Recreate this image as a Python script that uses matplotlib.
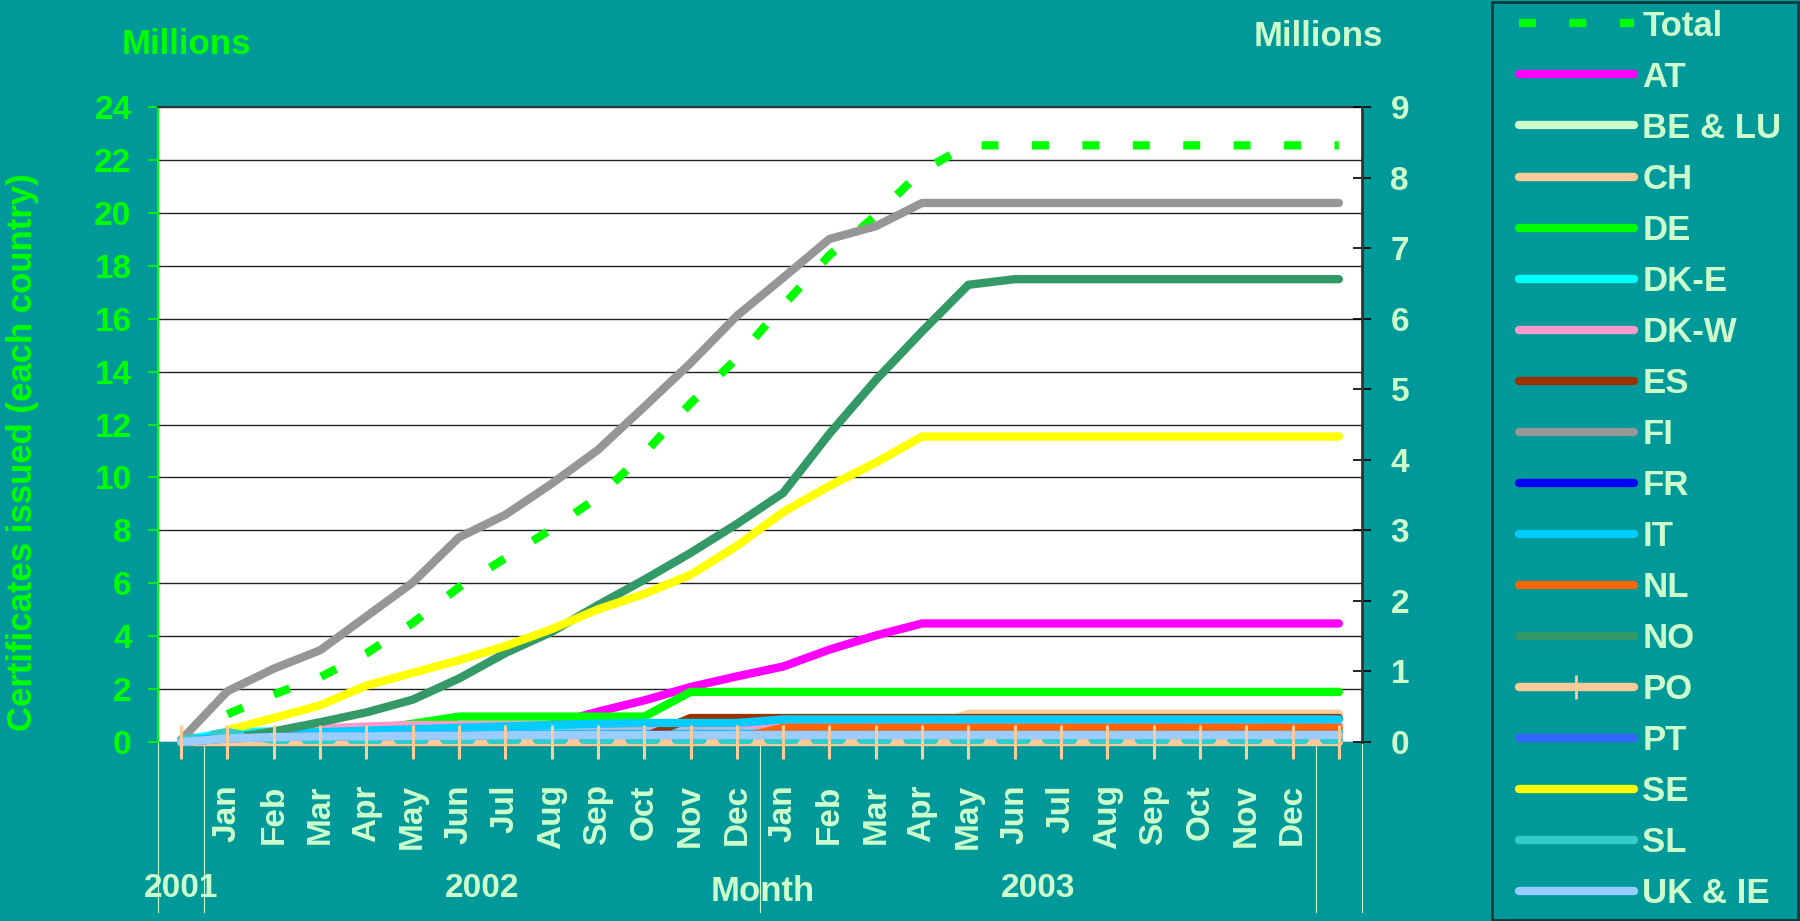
import numpy as np
import matplotlib.pyplot as plt
from matplotlib.lines import Line2D
from matplotlib.patches import Rectangle

plt.rcParams['font.family'] = ['Liberation Sans', 'DejaVu Sans']
plt.rcParams['font.weight'] = 'bold'
plt.rcParams['lines.scale_dashes'] = False

# categories of the x axis (first and last have no month label)
months = ['', 'Jan', 'Feb', 'Mar', 'Apr', 'May', 'Jun', 'Jul', 'Aug', 'Sep', 'Oct', 'Nov', 'Dec',
          'Jan', 'Feb', 'Mar', 'Apr', 'May', 'Jun', 'Jul', 'Aug', 'Sep', 'Oct', 'Nov', 'Dec', '']
year_groups = ['2001', '2002', '2003', '']
year_sizes = [1, 12, 12, 1]

nan = np.nan
# Total, left axis (millions)
total = [nan, 1.05, 1.8, 2.45, 3.35, 4.5, 5.85, 6.95, 8.05, 9.25, 10.9, 12.8, 14.5,
         16.5, 18.4, 19.9, 21.6, 22.55, 22.55, 22.55, 22.55, 22.55, 22.55, 22.55, 22.55, 22.55]

# countries, right axis (millions)
at_ = [0.0, 0.02, 0.04, 0.06, 0.08, 0.10, 0.12, 0.16, 0.25, 0.43, 0.59, 0.78, 0.93,
       1.07, 1.31, 1.51, 1.68, 1.68, 1.68, 1.68, 1.68, 1.68, 1.68, 1.68, 1.68, 1.68]
be_lu = [0.0, 0.04, 0.08, 0.10, 0.11, 0.12, 0.12, 0.12, 0.12, 0.12, 0.12, 0.12, 0.12,
         0.12, 0.12, 0.12, 0.12, 0.12, 0.12, 0.12, 0.12, 0.12, 0.12, 0.12, 0.12, 0.12]
ch = [0.0, 0.05, 0.12, 0.15, 0.16, 0.16, 0.16, 0.16, 0.16, 0.16, 0.16, 0.16, 0.16,
      0.16, 0.16, 0.16, 0.17, 0.40, 0.40, 0.40, 0.40, 0.40, 0.40, 0.40, 0.40, 0.40]
de = [0.0, 0.03, 0.06, 0.10, 0.16, 0.26, 0.36, 0.36, 0.36, 0.36, 0.36, 0.71, 0.71,
      0.71, 0.71, 0.71, 0.71, 0.71, 0.71, 0.71, 0.71, 0.71, 0.71, 0.71, 0.71, 0.71]
dk_e = [0.02, 0.14, 0.15, 0.15, 0.15, 0.15, 0.15, 0.15, 0.15, 0.15, 0.15, 0.15, 0.15,
        0.15, 0.15, 0.15, 0.15, 0.15, 0.15, 0.15, 0.15, 0.15, 0.15, 0.15, 0.15, 0.15]
dk_w = [0.0, 0.04, 0.15, 0.19, 0.22, 0.24, 0.24, 0.24, 0.24, 0.24, 0.24, 0.24, 0.24,
        0.24, 0.24, 0.24, 0.24, 0.24, 0.24, 0.24, 0.24, 0.24, 0.24, 0.24, 0.24, 0.24]
es = [0.0, 0.0, 0.0, 0.0, 0.0, 0.0, 0.0, 0.0, 0.0, 0.0, 0.07, 0.34, 0.34,
      0.34, 0.34, 0.34, 0.34, 0.34, 0.34, 0.34, 0.34, 0.34, 0.34, 0.34, 0.34, 0.34]
fi = [0.03, 0.72, 1.04, 1.30, 1.78, 2.26, 2.90, 3.22, 3.66, 4.14, 4.75, 5.37, 6.04,
      6.58, 7.13, 7.31, 7.64, 7.64, 7.64, 7.64, 7.64, 7.64, 7.64, 7.64, 7.64, 7.64]
fr = [0.0, 0.05, 0.07, 0.08, 0.08, 0.09, 0.09, 0.10, 0.10, 0.10, 0.10, 0.10, 0.10,
      0.10, 0.10, 0.10, 0.10, 0.10, 0.10, 0.10, 0.10, 0.10, 0.10, 0.10, 0.10, 0.10]
it = [0.02, 0.08, 0.12, 0.14, 0.16, 0.18, 0.20, 0.22, 0.24, 0.26, 0.27, 0.27, 0.27,
      0.32, 0.32, 0.32, 0.32, 0.32, 0.32, 0.32, 0.32, 0.32, 0.32, 0.32, 0.32, 0.32]
nl = [0.0, 0.0, 0.0, 0.0, 0.0, 0.0, 0.0, 0.0, 0.0, 0.0, 0.0, 0.0, 0.05,
      0.20, 0.20, 0.20, 0.20, 0.20, 0.20, 0.20, 0.20, 0.20, 0.20, 0.20, 0.20, 0.20]
no = [0.0, 0.05, 0.15, 0.28, 0.42, 0.60, 0.90, 1.26, 1.56, 1.94, 2.30, 2.68, 3.09,
      3.53, 4.37, 5.13, 5.82, 6.48, 6.56, 6.56, 6.56, 6.56, 6.56, 6.56, 6.56, 6.56]
po = [0.0, 0.0, 0.0, 0.0, 0.0, 0.0, 0.0, 0.0, 0.0, 0.0, 0.0, 0.0, 0.0,
      0.0, 0.0, 0.0, 0.0, 0.0, 0.0, 0.0, 0.0, 0.0, 0.0, 0.0, 0.0, 0.0]
pt = [0.0, 0.05, 0.07, 0.08, 0.08, 0.09, 0.09, 0.10, 0.10, 0.10, 0.10, 0.10, 0.10,
      0.10, 0.10, 0.10, 0.10, 0.10, 0.10, 0.10, 0.10, 0.10, 0.10, 0.10, 0.10, 0.10]
se = [nan, 0.17, 0.34, 0.52, 0.80, 0.98, 1.16, 1.36, 1.60, 1.88, 2.10, 2.37, 2.78,
      3.26, 3.63, 3.96, 4.33, 4.33, 4.33, 4.33, 4.33, 4.33, 4.33, 4.33, 4.33, 4.33]
sl = [0.03, 0.14, 0.03, 0.03, 0.03, 0.03, 0.03, 0.03, 0.03, 0.03, 0.03, 0.03, 0.03,
      0.03, 0.03, 0.03, 0.03, 0.03, 0.03, 0.03, 0.03, 0.03, 0.03, 0.03, 0.03, 0.03]
uk_ie = [0.0, 0.05, 0.07, 0.08, 0.08, 0.09, 0.09, 0.10, 0.10, 0.10, 0.10, 0.10, 0.10,
         0.10, 0.10, 0.10, 0.10, 0.10, 0.10, 0.10, 0.10, 0.10, 0.10, 0.10, 0.10, 0.10]

countries = [
    ('AT', at_, '#FF00FF'),
    ('BE & LU', be_lu, '#CCFFCC'),
    ('CH', ch, '#FFCC99'),
    ('DE', de, '#00FF00'),
    ('DK-E', dk_e, '#00FFFF'),
    ('DK-W', dk_w, '#FF99CC'),
    ('ES', es, '#993300'),
    ('FI', fi, '#969696'),
    ('FR', fr, '#0000FF'),
    ('IT', it, '#00CCFF'),
    ('NL', nl, '#FF6600'),
    ('NO', no, '#339966'),
    ('PO', po, '#FFCC99'),
    ('PT', pt, '#3366FF'),
    ('SE', se, '#FFFF00'),
    ('SL', sl, '#33CCCC'),
    ('UK & IE', uk_ie, '#99CCFF'),
]

BG = '#009999'
LIGHT = '#CCFFCC'
GREEN = '#00FF00'
LW = 6
DPI = 100
W, H = 1800, 921
ax_px = (158, 107, 1362, 742)  # left, top, right, bottom in pixels

fig = plt.figure(figsize=(W / DPI, H / DPI), dpi=DPI, facecolor=BG)
ax = fig.add_axes([ax_px[0] / W, 1 - ax_px[3] / H,
                   (ax_px[2] - ax_px[0]) / W, (ax_px[3] - ax_px[1]) / H])
ax.set_facecolor('white')
x = np.arange(len(months))

# Total on left axis
total_dash = (12.2, 24.1)
ax.plot(x, total, color=GREEN, lw=LW, dashes=total_dash, dash_capstyle='butt', clip_on=False)
ax.set_xlim(-0.5, len(months) - 0.5)
ax.set_ylim(0, 24)
ax.set_yticks(np.arange(0, 25, 2))
ax.grid(axis='y', color='#222222', lw=1.0)
ax.set_axisbelow(True)
ax.set_xticks(x)
ax.set_xticklabels(months)
ax.tick_params(axis='x', length=0, labelsize=24, labelcolor=LIGHT, pad=30.5, labelrotation=90)
ax.tick_params(axis='y', colors=GREEN, length=7, width=1.2, direction='out', labelsize=24, pad=12)
ax.spines['left'].set_color(GREEN)
ax.spines['left'].set_linewidth(1.5)
ax.spines['right'].set_visible(False)
ax.spines['bottom'].set_visible(False)
ax.spines['top'].set_color('#333333')
ax.spines['top'].set_linewidth(1.5)

# countries on right axis
ax2 = ax.twinx()
ax2.set_ylim(0, 9)
ax2.set_yticks(np.arange(0, 10, 1))
ax2.tick_params(axis='y', direction='inout', length=13, width=1.2, color='black',
                labelcolor=LIGHT, labelsize=24, pad=14)
for s in ['left', 'top', 'bottom']:
    ax2.spines[s].set_visible(False)
ax2.spines['right'].set_color('#333333')
ax2.spines['right'].set_linewidth(2)

cat_pt = (ax_px[2] - ax_px[0]) / len(months) * 72 / DPI
sl_style = (cat_pt * 0.29, (cat_pt * 0.58, cat_pt * 0.42))

for name, vals, col in countries:
    if name == 'SL':
        ax2.plot(x, vals, color=col, lw=LW, ls=sl_style, dash_capstyle='round',
                 solid_capstyle='round', clip_on=False)
    else:
        ax2.plot(x, vals, color=col, lw=LW, solid_capstyle='round', clip_on=False)
# PO markers are drawn on top of all lines
ax2.plot(x, po, ls='none', marker='|', ms=25, mew=2.2, color='#FFCC99', zorder=5, clip_on=False)

# year groups under the month labels
trans = ax.get_xaxis_transform()
bounds = np.concatenate([[0], np.cumsum(year_sizes)]) - 0.5
for b in bounds:
    ax.plot([b, b], [0, -0.268], transform=trans, color=LIGHT, lw=0.8, clip_on=False)
centers = (bounds[:-1] + bounds[1:]) / 2
for name, c in zip(year_groups, centers):
    ax.text(c, -0.231, name, transform=trans, ha='center', va='center', fontsize=24, color=LIGHT)

fig.text(763 / W, 1 - 891 / H, 'Month', ha='center', va='center', fontsize=25, color=LIGHT)
fig.text(186 / W, 1 - 44 / H, 'Millions', ha='center', va='center', fontsize=25, color=GREEN)
fig.text(1318 / W, 1 - 37 / H, 'Millions', ha='center', va='center', fontsize=25, color=LIGHT)
fig.text(23 / W, 1 - 452 / H, 'Certificates issued (each country)', rotation=90,
         ha='center', va='center', fontsize=25, color=GREEN)

# legend
handles = [Line2D([], [], color=GREEN, lw=LW, dashes=total_dash, dash_capstyle='butt')]
labels = ['Total']
for name, vals, col in countries:
    if name == 'PO':
        handles.append(Line2D([], [], color=col, lw=LW, solid_capstyle='round',
                              marker='|', ms=17, mew=2))
    else:
        handles.append(Line2D([], [], color=col, lw=LW, solid_capstyle='round'))
    labels.append(name)

fig.patches.append(Rectangle((1492 / W, 0.001), 1 - 1492 / W - 0.001, 0.997,
                             transform=fig.transFigure, facecolor='none',
                             edgecolor='#0b3b3b', lw=2))
fig.legend(handles, labels, loc='upper left', bbox_to_anchor=(1519 / W, 1 - 9.5 / H),
           frameon=False, fontsize=25, labelcolor=LIGHT, handlelength=3.3,
           handletextpad=0.25, labelspacing=0.52, borderpad=0, borderaxespad=0,
           numpoints=1)

fig.savefig('out.png', dpi=DPI, facecolor=BG)
